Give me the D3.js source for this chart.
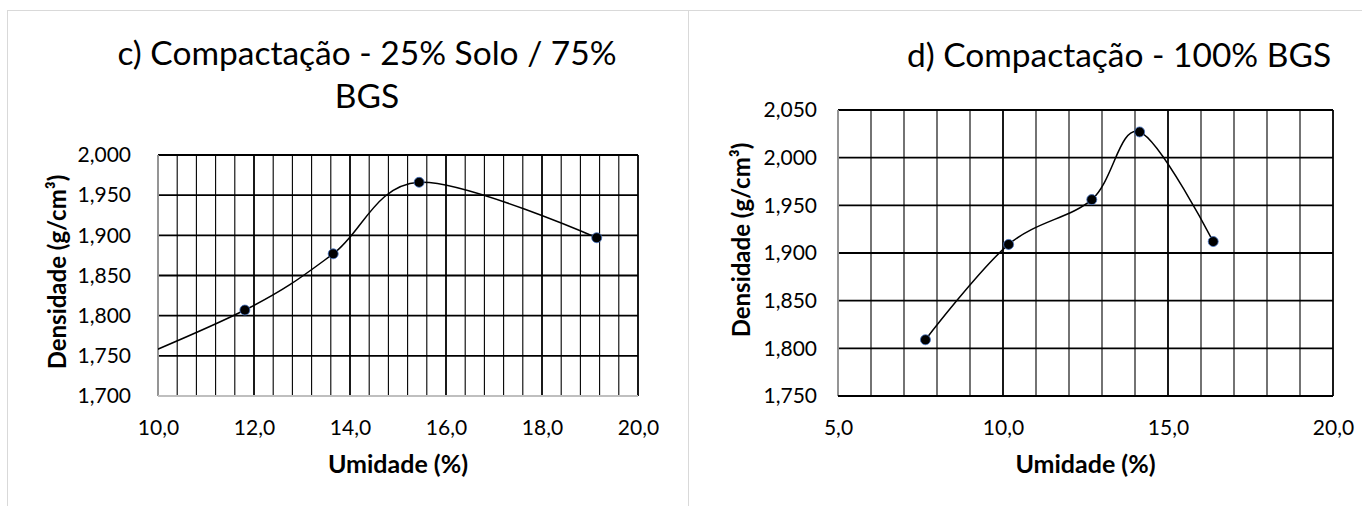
<!DOCTYPE html>
<html>
<head>
<meta charset="utf-8">
<script src="https://cdn.jsdelivr.net/npm/d3@7"></script>
<style>
  body { margin: 0; background: #fff; }
  text { font-family: Lato, "Open Sans", sans-serif; fill: #000; }
</style>
</head>
<body>
<svg id="chart" width="1362" height="506"></svg>
<script>
// c) Compactação - 25% Solo / 75% BGS
// first point sits left of the axis (only the curve shows, entering at x = 10)
const umidadeC = [8.3, 11.81, 13.65, 15.44, 19.14];
const densidadeC = [1.716, 1.807, 1.877, 1.966, 1.897];
const xTicksC = [10, 12, 14, 16, 18, 20];
const yTicksC = [1.70, 1.75, 1.80, 1.85, 1.90, 1.95, 2.00];

// d) Compactação - 100% BGS
const umidadeD = [7.65, 10.17, 12.69, 14.14, 16.37];
const densidadeD = [1.809, 1.909, 1.956, 2.027, 1.912];
const xTicksD = [5, 10, 15, 20];
const yTicksD = [1.75, 1.80, 1.85, 1.90, 1.95, 2.00, 2.05];

const locale = d3.formatLocale({ decimal: ",", thousands: ".", grouping: [3], currency: ["", ""] });
const fmtX = locale.format(".1f");
const fmtY = locale.format(".3f");

const svg = d3.select("#chart");

// panel frames
svg.append("rect").attr("x", 7.5).attr("y", 10.5).attr("width", 681).attr("height", 520)
  .attr("fill", "none").attr("stroke", "#d9d9d9");
svg.append("rect").attr("x", 688.5).attr("y", 10.5).attr("width", 700).attr("height", 520)
  .attr("fill", "none").attr("stroke", "#d9d9d9");

function drawChart(o) {
  const x = d3.scaleLinear().domain([o.xTicks[0], o.xTicks[o.xTicks.length - 1]]).range([o.left, o.right]);
  const y = d3.scaleLinear().domain([o.yTicks[0], o.yTicks[o.yTicks.length - 1]]).range([o.bottom, o.top]);
  const g = svg.append("g");

  // vertical gridlines (minor + major)
  const xs = d3.range(0, Math.round((x.domain()[1] - x.domain()[0]) / o.xMinor) + 1)
    .map(i => x.domain()[0] + i * o.xMinor);
  g.selectAll(".vgrid").data(xs).join("line")
    .attr("class", "vgrid")
    .attr("x1", d => x(d)).attr("x2", d => x(d))
    .attr("y1", o.top).attr("y2", o.bottom)
    .attr("stroke", "#000")
    .attr("stroke-width", d => o.xTicks.some(t => Math.abs(t - d) < 1e-6) ? 1.8 : 1.1);

  // horizontal gridlines
  g.selectAll(".hgrid").data(o.yTicks).join("line")
    .attr("class", "hgrid")
    .attr("x1", o.left).attr("x2", o.right)
    .attr("y1", d => y(d)).attr("y2", d => y(d))
    .attr("stroke", "#000").attr("stroke-width", 1.8);

  // axis lines
  g.append("line").attr("x1", o.left).attr("x2", o.left).attr("y1", o.top).attr("y2", o.bottom)
    .attr("stroke", "#bfbfbf").attr("stroke-width", 1.5);
  g.append("line").attr("x1", o.left).attr("x2", o.right).attr("y1", o.bottom).attr("y2", o.bottom)
    .attr("stroke", o.xAxisColor).attr("stroke-width", 1.8);

  // tick labels
  const ax = g.append("g").attr("transform", `translate(0,${o.bottom})`)
    .call(d3.axisBottom(x).tickValues(o.xTicks).tickFormat(fmtX).tickSize(0).tickPadding(24));
  const ay = g.append("g").attr("transform", `translate(${o.left},0)`)
    .call(d3.axisLeft(y).tickValues(o.yTicks).tickFormat(fmtY).tickSize(0).tickPadding(o.yPad));
  [ax, ay].forEach(a => {
    a.select(".domain").remove();
    a.selectAll("text").attr("font-family", "Lato, sans-serif").attr("font-size", 21).attr("fill", "#000");
  });

  // smoothed series line, clipped to the plot area
  const clipId = "clip-" + o.id;
  svg.append("clipPath").attr("id", clipId).append("rect")
    .attr("x", o.left).attr("y", o.top - 8).attr("width", o.right - o.left).attr("height", o.bottom - o.top + 8);
  const pts = o.xs.map((v, i) => [v, o.ys[i]]);
  const line = d3.line().x(d => x(d[0])).y(d => y(d[1])).curve(d3.curveCardinal.tension(0));
  const plot = g.append("g").attr("clip-path", `url(#${clipId})`);
  plot.append("path").datum(pts).attr("d", line)
    .attr("fill", "none").attr("stroke", "#000").attr("stroke-width", 1.5);
  plot.selectAll(".pt").data(pts).join("circle")
    .attr("class", "pt")
    .attr("cx", d => x(d[0])).attr("cy", d => y(d[1])).attr("r", 5)
    .attr("fill", "#000").attr("stroke", "#4472c4").attr("stroke-width", 0.8);

  // titles
  const t = g.append("text").attr("text-anchor", "middle").attr("font-size", 33.5);
  o.title.forEach((s, i) => {
    t.append("tspan").attr("x", o.titleX).attr("y", o.titleY + i * 43).text(s);
  });
  g.append("text").attr("x", (o.left + o.right) / 2).attr("y", 473)
    .attr("text-anchor", "middle").attr("font-size", 25).attr("font-weight", "bold")
    .text("Umidade (%)");
  g.append("text").attr("transform", `translate(${o.yTitleX},${o.yTitleY}) rotate(-90)`)
    .attr("text-anchor", "middle").attr("font-size", 24).attr("font-weight", "bold")
    .text("Densidade (g/cm³)");
}

drawChart({
  id: "c", xs: umidadeC, ys: densidadeC, xTicks: xTicksC, yTicks: yTicksC, xMinor: 0.4,
  left: 158, right: 638, top: 155, bottom: 396, yPad: 27, xAxisColor: "#bfbfbf",
  title: ["c) Compactação - 25% Solo / 75%", "BGS"], titleX: 367, titleY: 65,
  yTitleX: 66, yTitleY: 272
});

drawChart({
  id: "d", xs: umidadeD, ys: densidadeD, xTicks: xTicksD, yTicks: yTicksD, xMinor: 1,
  left: 838, right: 1333, top: 110, bottom: 396, yPad: 21, xAxisColor: "#000",
  title: ["d) Compactação - 100% BGS"], titleX: 1119, titleY: 67,
  yTitleX: 750, yTitleY: 240
});
</script>
</body>
</html>
